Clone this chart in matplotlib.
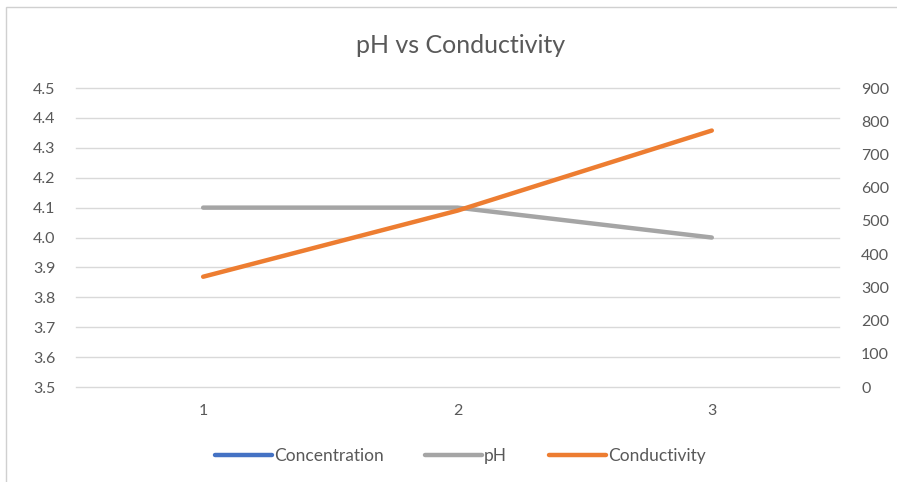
import numpy as np
import matplotlib.pyplot as plt
from matplotlib.patches import Rectangle

plt.rcParams['font.family'] = ['Lato', 'DejaVu Sans']

# data
samples = [1, 2, 3]
concentration = [np.nan, np.nan, np.nan]
ph = [4.1, 4.1, 4.0]
conductivity = [332, 531, 772]

left_ticks = [3.5, 3.6, 3.7, 3.8, 3.9, 4.0, 4.1, 4.2, 4.3, 4.4, 4.5]
right_ticks = [0, 100, 200, 300, 400, 500, 600, 700, 800, 900]

text_col = '#595959'
grid_col = '#D9D9D9'

fig = plt.figure(figsize=(8.97, 4.82), dpi=100)
ax = fig.add_axes([0.0847, 0.197, 0.8506, 0.6204])
ax2 = ax.twinx()

# chart border (left/top visible in reference)
fig.patches.append(Rectangle((6 / 897, -0.1), 1.2, (1 - 7 / 482) + 0.1,
                             transform=fig.transFigure, fill=False,
                             edgecolor='#D0D0D0', linewidth=1))

l1, = ax.plot(samples, concentration, color='#4472C4', linewidth=3.2,
              solid_capstyle='round', label='Concentration')
l2, = ax.plot(samples, ph, color='#A5A5A5', linewidth=3.2,
              solid_capstyle='round', label='pH')
l3, = ax2.plot(samples, conductivity, color='#ED7D31', linewidth=3.2,
               solid_capstyle='round', label='Conductivity')

ax.set_xlim(0.5, 3.5)
ax.set_ylim(3.5, 4.5)
ax2.set_ylim(0, 900)
ax.set_xticks(samples)
ax.set_yticks(left_ticks)
ax.set_yticklabels([f'{v:.1f}' for v in left_ticks])
ax2.set_yticks(right_ticks)

ax.grid(axis='y', color=grid_col, linewidth=1)
for g in ax.get_ygridlines():
    g.set_clip_on(False)
ax.set_axisbelow(True)
for a in (ax, ax2):
    for s in a.spines.values():
        s.set_visible(False)
    a.tick_params(length=0, labelsize=11.5, colors=text_col)
ax.tick_params(axis='y', pad=15)
ax.tick_params(axis='x', pad=12)
ax2.tick_params(axis='y', pad=16)

fig.suptitle('pH vs Conductivity', x=0.513, y=0.93, fontsize=18, color=text_col)

fig.legend(handles=[l1, l2, l3], loc='center', bbox_to_anchor=(0.513, 0.053),
           ncol=3, frameon=False, fontsize=12.5, handlelength=3.3,
           handletextpad=0.1, columnspacing=2.4, labelcolor=text_col)

fig.savefig('out.png', dpi=100)
